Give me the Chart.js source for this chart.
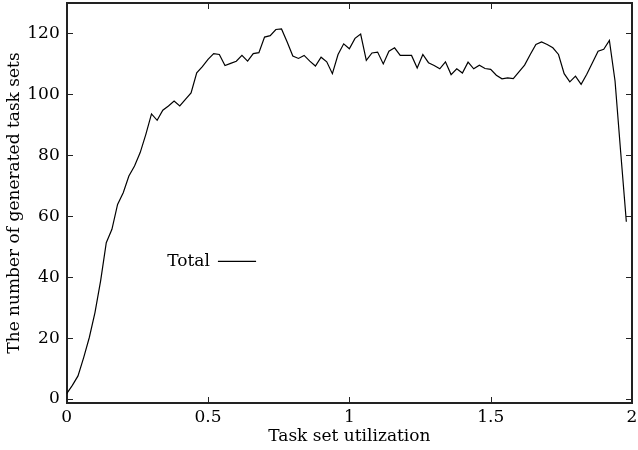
<!DOCTYPE html>
<html>
<head>
<meta charset="utf-8">
<script src="https://cdn.jsdelivr.net/npm/chart.js@4.4.1/dist/chart.umd.min.js"></script>
<style>
  html, body { margin: 0; padding: 0; background: #fff; }
  #wrap { width: 638px; height: 450px; position: relative; }
</style>
</head>
<body>
<div id="wrap"><canvas id="utilChart"></canvas></div>
<script>
// Data
const utilization = [
  0.00, 0.02, 0.04, 0.06, 0.08, 0.10, 0.12, 0.14, 0.16, 0.18,
  0.20, 0.22, 0.24, 0.26, 0.28, 0.30, 0.32, 0.34, 0.36, 0.38,
  0.40, 0.42, 0.44, 0.46, 0.48, 0.50, 0.52, 0.54, 0.56, 0.58,
  0.60, 0.62, 0.64, 0.66, 0.68, 0.70, 0.72, 0.74, 0.76, 0.78,
  0.80, 0.82, 0.84, 0.86, 0.88, 0.90, 0.92, 0.94, 0.96, 0.98,
  1.00, 1.02, 1.04, 1.06, 1.08, 1.10, 1.12, 1.14, 1.16, 1.18,
  1.20, 1.22, 1.24, 1.26, 1.28, 1.30, 1.32, 1.34, 1.36, 1.38,
  1.40, 1.42, 1.44, 1.46, 1.48, 1.50, 1.52, 1.54, 1.56, 1.58,
  1.60, 1.62, 1.64, 1.66, 1.68, 1.70, 1.72, 1.74, 1.76, 1.78,
  1.80, 1.82, 1.84, 1.86, 1.88, 1.90, 1.92, 1.94, 1.96, 1.98
];

const totalSets = [
  1.8, 4.5, 7.6, 13.6, 20.2, 28.4, 38.8, 51.3, 55.7, 63.9,
  67.7, 73.2, 76.5, 80.9, 86.9, 93.6, 91.5, 94.8, 96.2, 97.8,
  96.2, 98.4, 100.5, 107.1, 109.1, 111.5, 113.4, 113.1, 109.5, 110.2,
  110.9, 112.8, 110.9, 113.4, 113.7, 118.8, 119.3, 121.3, 121.5, 117.2,
  112.6, 111.8, 112.8, 110.9, 109.3, 112.2, 110.7, 106.8, 113.1, 116.6,
  115.0, 118.4, 119.8, 111.2, 113.6, 113.9, 110.0, 114.2, 115.3, 112.8,
  112.8, 112.8, 108.7, 113.1, 110.4, 109.5, 108.4, 110.7, 106.5, 108.4,
  107.0, 110.6, 108.4, 109.6, 108.5, 108.2, 106.3, 105.1, 105.4, 105.2,
  107.4, 109.6, 113.1, 116.4, 117.2, 116.4, 115.3, 113.1, 106.8, 104.1,
  106.0, 103.3, 106.6, 110.4, 114.2, 114.8, 117.7, 104.4, 81.0, 58.2
];

const xTicks = [0, 0.5, 1, 1.5, 2];
const yTicks = [0, 20, 40, 60, 80, 100, 120];

const FONT = { family: "'DejaVu Serif', serif", size: 17 };
const INK = '#000';

// Box around the plot with short inward ticks on all four sides (gnuplot style)
const framePlugin = {
  id: 'frame',
  beforeDatasetsDraw(chart) {
    const { ctx, chartArea: a, scales } = chart;
    const tick = 6;
    const left = Math.round(a.left), right = Math.round(a.right);
    const top = Math.round(a.top), bottom = Math.round(a.bottom);
    ctx.save();
    ctx.strokeStyle = '#222';
    ctx.lineWidth = 1;
    ctx.beginPath();
    xTicks.forEach(v => {
      const px = Math.round(scales.x.getPixelForValue(v)) + 0.5;
      ctx.moveTo(px, bottom); ctx.lineTo(px, bottom - tick);
      ctx.moveTo(px, top); ctx.lineTo(px, top + tick);
    });
    yTicks.forEach(v => {
      const py = Math.round(scales.y.getPixelForValue(v)) + 0.5;
      ctx.moveTo(left, py); ctx.lineTo(left + tick, py);
      ctx.moveTo(right, py); ctx.lineTo(right - tick, py);
    });
    ctx.stroke();
    ctx.lineWidth = 2;
    ctx.strokeRect(left, top, right - left, bottom - top);
    ctx.restore();
  }
};

// Key drawn inside the plot: label text, then a line sample
const keyPlugin = {
  id: 'key',
  afterDatasetsDraw(chart) {
    const { ctx, scales } = chart;
    const ds = chart.data.datasets[0];
    const y = scales.y.getPixelForValue(45.2);
    const lineStart = scales.x.getPixelForValue(0.535);
    const lineEnd = scales.x.getPixelForValue(0.67);
    ctx.save();
    ctx.font = `${FONT.size}px ${FONT.family}`;
    ctx.fillStyle = INK;
    ctx.textAlign = 'right';
    ctx.textBaseline = 'middle';
    ctx.fillText(ds.label, lineStart - 8, y);
    ctx.strokeStyle = ds.borderColor;
    ctx.lineWidth = ds.borderWidth;
    ctx.beginPath();
    ctx.moveTo(lineStart, y);
    ctx.lineTo(lineEnd, y);
    ctx.stroke();
    ctx.restore();
  }
};

const ctx = document.getElementById('utilChart');

new Chart(ctx, {
  type: 'line',
  data: {
    labels: utilization,
    datasets: [{
      label: 'Total',
      data: utilization.map((u, i) => ({ x: u, y: totalSets[i] })),
      borderColor: INK,
      borderWidth: 1.2,
      pointRadius: 0,
      tension: 0,
      fill: false
    }]
  },
  options: {
    responsive: true,
    maintainAspectRatio: false,
    animation: false,
    layout: { padding: { top: 3, right: 6, left: 0, bottom: 0 } },
    plugins: {
      legend: { display: false },
      tooltip: { enabled: false }
    },
    scales: {
      x: {
        type: 'linear',
        min: 0,
        max: 2,
        afterBuildTicks: scale => { scale.ticks = xTicks.map(v => ({ value: v })); },
        afterFit: scale => {
          scale.height = 47;
          scale.paddingLeft = 0;
          scale.paddingRight = 0;
        },
        grid: { display: false, drawTicks: false },
        border: { display: false },
        ticks: {
          color: INK,
          font: FONT,
          padding: 4,
          maxRotation: 0,
          autoSkip: false,
          callback: v => String(v)
        },
        title: {
          display: true,
          text: 'Task set utilization',
          color: INK,
          font: FONT,
          padding: { top: 0, bottom: 3 }
        }
      },
      y: {
        min: -1.3,
        max: 130,
        afterBuildTicks: scale => { scale.ticks = yTicks.map(v => ({ value: v })); },
        afterFit: scale => {
          scale.width = 66.7;
          scale.paddingTop = 0;
          scale.paddingBottom = 0;
        },
        grid: { display: false, drawTicks: false },
        border: { display: false },
        ticks: {
          color: INK,
          font: FONT,
          padding: 7,
          autoSkip: false
        },
        title: {
          display: true,
          text: 'The number of generated task sets',
          color: INK,
          font: FONT,
          padding: { top: 4, bottom: 0 }
        }
      }
    }
  },
  plugins: [framePlugin, keyPlugin]
});
</script>
</body>
</html>
